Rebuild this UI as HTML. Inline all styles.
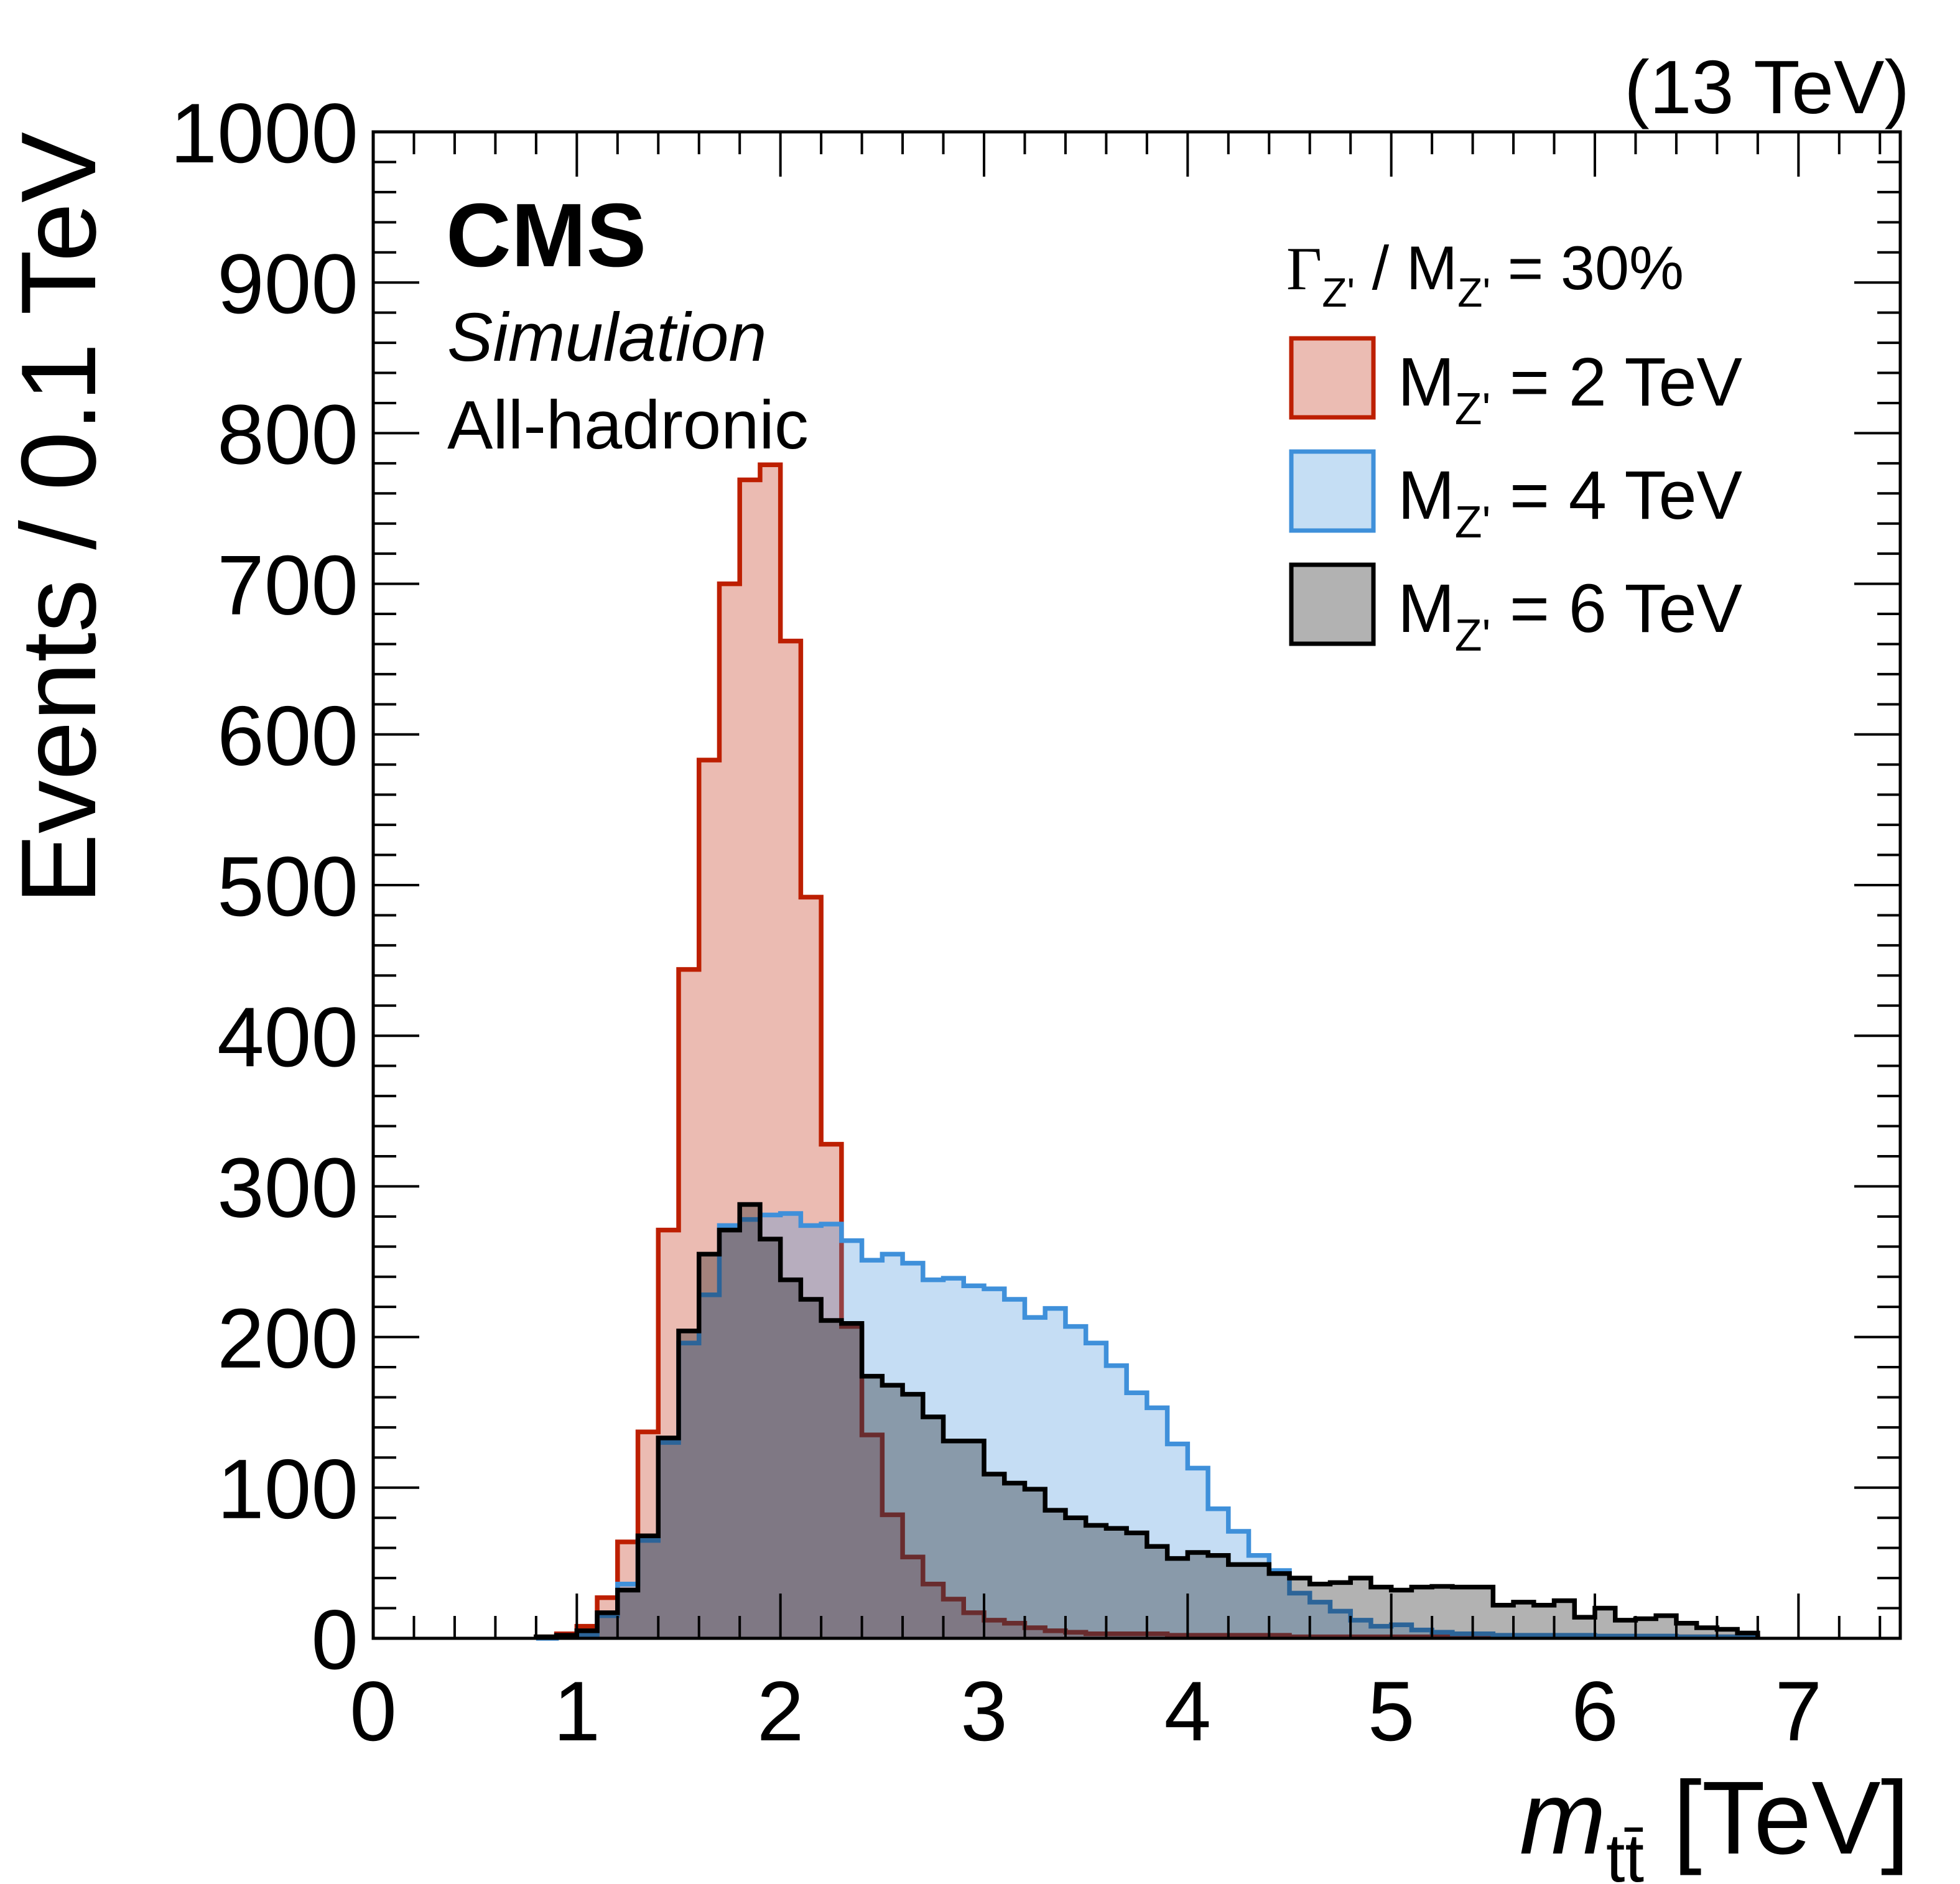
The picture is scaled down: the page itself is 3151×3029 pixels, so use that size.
<!DOCTYPE html>
<html><head><meta charset="utf-8"><style>
html,body{margin:0;padding:0;background:#fff;}
svg{display:block;font-family:"Liberation Sans",Arial,sans-serif;}
</style></head><body>
<svg id="chart" width="3151" height="3029" viewBox="0 0 3151 3029" xmlns="http://www.w3.org/2000/svg">
<rect x="0" y="0" width="3151" height="3029" fill="#fff"/>
<g id="hists"></g>
<g id="axes"></g>
<text x="3070" y="182" font-size="122" text-anchor="end">(13 TeV)</text>
<text x="717" y="428" font-size="145" font-weight="bold">CMS</text>
<text x="719" y="580" font-size="110" font-style="italic">Simulation</text>
<text x="719" y="721" font-size="110">All-hadronic</text>
<text transform="translate(153,212) rotate(-90)" font-size="171" text-anchor="end">Events / 0.1 TeV</text>
<text x="3070" y="2980" font-size="167" text-anchor="end"><tspan font-style="italic">m</tspan><tspan font-size="110" dy="45">tt̄</tspan><tspan dy="-45"> [TeV]</tspan></text>
<g>
<text x="2068" y="465" font-size="99"><tspan font-family="Liberation Serif,serif">Γ</tspan><tspan font-size="66" dy="28">Z'</tspan><tspan dy="-28"> / M</tspan><tspan font-size="66" dy="28">Z'</tspan><tspan dy="-28"> = 30%</tspan></text>
<g>
<rect x="2076" y="544" width="132" height="127" fill="#ebbcb3" stroke="#bd1f01" stroke-width="7"/>
<text x="2247" y="652" font-size="110">M<tspan font-size="72" dy="30">Z'</tspan><tspan dy="-30"> = 2 TeV</tspan></text></g>
<g>
<rect x="2076" y="726" width="132" height="127" fill="#c5def4" stroke="#3f90da" stroke-width="7"/>
<text x="2247" y="834" font-size="110">M<tspan font-size="72" dy="30">Z'</tspan><tspan dy="-30"> = 4 TeV</tspan></text></g>
<g>
<rect x="2076" y="908" width="132" height="127" fill="#b2b2b2" stroke="#000" stroke-width="7"/>
<text x="2247" y="1016" font-size="110">M<tspan font-size="72" dy="30">Z'</tspan><tspan dy="-30"> = 6 TeV</tspan></text></g>
</g>
</svg>
<script>
const binStart = 0.8;
const binWidth = 0.1;
const mz2 = [1,3,8,27,64,137,271,444,583,700,769,779,662,492,328,207,135,82,54,36,26,17,12,10,7,5,4,3,3,3,3,2,2,2,2,2,2,1,1,1,1,1,1,1,1,1,1,1,1,1,1,1,1,1,1,1,1,1,1,1];
const mz4 = [0,1,2,15,36,65,130,196,228,274,278,281,282,274,275,264,251,255,249,238,239,234,232,225,213,219,207,196,181,163,153,129,113,86,71,55,45,30,24,18,12,8,9,5.5,4,3,3,2,2,2,2,2,1.5,1.5,1.5,1.5,1,1,1,1];
const mz6 = [1,2,5,17,32,68,133,204,255,271,288,265,238,225,211,209,174,168,162,147,131,131,109,103,99,85,80,75,73,70,61,53,57,55,49,49,43,40,36,37,40,34,32,34,34.5,34,34,22,24,22,25,14,20,12,13,15,10,7,6,3.5];
const xTicks = [0,1,2,3,4,5,6,7];
const yTicks = [0,100,200,300,400,500,600,700,800,900,1000];

const NS = "http://www.w3.org/2000/svg";
const L = 600, R = 3055, T = 212, B = 2634;
const xMax = 7.5, yMax = 1000;
function X(v){ return L + v/xMax*(R-L); }
function Y(v){ return B - v/yMax*(B-T); }
function mk(tag, attrs, parent){
  const e = document.createElementNS(NS, tag);
  for (const k in attrs) e.setAttribute(k, attrs[k]);
  parent.appendChild(e); return e;
}
const hg = document.getElementById('hists');
function histPath(vals){
  let d = "M" + X(binStart) + "," + Y(0);
  for (let i=0;i<vals.length;i++){
    d += " V" + Y(vals[i]) + " H" + X(binStart + (i+1)*binWidth);
  }
  d += " V" + Y(0);
  return d;
}
const series = [
  {vals: mz2, fill:"#bd1f01", line:"#bd1f01", name:"hist-mz-2tev"},
  {vals: mz4, fill:"#3f90da", line:"#3f90da", name:"hist-mz-4tev"},
  {vals: mz6, fill:"#000000", line:"#000000", name:"hist-mz-6tev"}
];
series.forEach(s=>{
  const g = mk('g', {}, hg);
  
  
  const d = histPath(s.vals);
  const f = mk('path', {d: d + " Z", fill: s.fill, 'fill-opacity': 0.3, stroke:"none"}, g);
  
  
  const p = mk('path', {d: d, fill:"none", stroke: s.line, 'stroke-width': 7.5, 'stroke-linejoin':'miter'}, g);
  
  
});
const ax = document.getElementById('axes');
for (let v=0; v<=xMax+1e-9; v+=0.2){
  const x = X(v);
  const major = Math.abs(v - Math.round(v)) < 1e-6;
  const len = major ? 72 : 36;
  const t1 = mk('line', {x1:x, x2:x, y1:B, y2:B-len, stroke:"#000", 'stroke-width':4}, ax);
  
  
  const t2 = mk('line', {x1:x, x2:x, y1:T, y2:T+len, stroke:"#000", 'stroke-width':4}, ax);
  
  
}
for (let v=0; v<=yMax; v+=20){
  const y = Y(v);
  const len = (v % 100 === 0) ? 74 : 37;
  const t1 = mk('line', {x1:L, x2:L+len, y1:y, y2:y, stroke:"#000", 'stroke-width':4}, ax);
  
  
  const t2 = mk('line', {x1:R, x2:R-len, y1:y, y2:y, stroke:"#000", 'stroke-width':4}, ax);
  
  
}
const frame = mk('rect', {x:L, y:T, width:R-L, height:B-T, fill:"none", stroke:"#000", 'stroke-width':5}, ax);


xTicks.forEach(v=>{
  const t = mk('text', {x:X(v), y:2798, 'font-size':136, 'text-anchor':'middle'}, ax);
  
  
  t.textContent = v;
});
yTicks.forEach(v=>{
  const t = mk('text', {x:576, y:Y(v)+49, 'font-size':136, 'text-anchor':'end'}, ax);
  
  
  t.textContent = v;
});
</script>
</body></html>
